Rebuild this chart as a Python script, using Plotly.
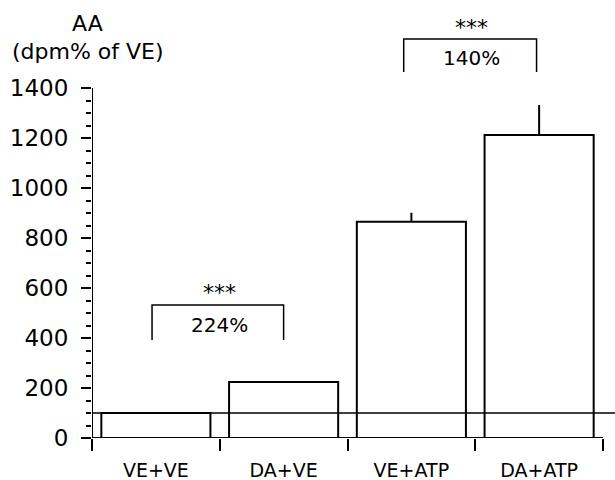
import plotly.graph_objects as go

categories = ["VE+VE", "DA+VE", "VE+ATP", "DA+ATP"]
values = [100, 224, 865, 1212]
errors = [4, 4, 36, 120]
y_major = [0, 200, 400, 600, 800, 1000, 1200, 1400]
y_minor = [v for v in range(50, 1400, 50) if v % 200 != 0]
baseline = 100
brackets = [
    {"x0": -0.03, "x1": 1.0, "top": 532, "leg": 392, "stars": 584, "pct": 452, "label": "224%", "xc": 0.5},
    {"x0": 1.94, "x1": 2.98, "top": 1596, "leg": 1464, "stars": 1644, "pct": 1520, "label": "140%", "xc": 2.47},
]

FONT = "DejaVu Sans"

fig = go.Figure()
fig.add_trace(go.Bar(
    x=categories, y=values,
    marker=dict(color="white", line=dict(color="black", width=2)),
    error_y=dict(type="data", array=errors, arrayminus=[0]*len(errors), symmetric=False,
                 color="black", thickness=2, width=0),
))

shapes = [
    dict(type="line", xref="x", yref="y", x0=-0.5, x1=-0.5, y0=0, y1=1400,
         line=dict(color="black", width=2)),
    dict(type="line", xref="x", yref="y", x0=-0.5, x1=3.5, y0=0, y1=0,
         line=dict(color="black", width=2)),
    dict(type="line", xref="paper", yref="y", x0=0, x1=1, y0=baseline, y1=baseline,
         line=dict(color="black", width=1.5), layer="above"),
]
annotations = [
    dict(text="AA", xref="paper", yref="y", x=-0.008, y=1660, xanchor="center", showarrow=False,
         font=dict(family=FONT, size=22, color="black")),
    dict(text="(dpm% of VE)", xref="paper", yref="y", x=-0.008, y=1548, xanchor="center", showarrow=False,
         font=dict(family=FONT, size=22, color="black")),
]
for b in brackets:
    shapes.append(dict(type="path", xref="x", yref="y",
                       path=f"M {b['x0']},{b['leg']} L {b['x0']},{b['top']} L {b['x1']},{b['top']} L {b['x1']},{b['leg']}",
                       line=dict(color="black", width=1.5)))
    annotations.append(dict(text="***", x=b["xc"], y=b["stars"], xref="x", yref="y", xanchor="center",
                            showarrow=False, font=dict(family=FONT, size=22, color="black")))
    annotations.append(dict(text=b["label"], x=b["xc"], y=b["pct"], xref="x", yref="y", xanchor="center",
                            showarrow=False, font=dict(family=FONT, size=20, color="black")))

fig.update_layout(
    width=615, height=480,
    margin=dict(l=92, r=0, t=0, b=42),
    paper_bgcolor="white", plot_bgcolor="white",
    showlegend=False,
    bargap=0.146,
    shapes=shapes, annotations=annotations,
    font=dict(family=FONT, size=20, color="black"),
    xaxis=dict(range=[-0.5, 3.594], showline=False, showgrid=False, zeroline=False, automargin=False,
               ticks="outside", tickson="boundaries", ticklen=12, tickwidth=2, tickcolor="black",
               ticklabelstandoff=19,
               tickfont=dict(family=FONT, size=19, color="black")),
    yaxis=dict(range=[0, 1752], showline=False, showgrid=False, zeroline=False, automargin=False,
               tickmode="array", tickvals=y_major, ticks="outside", ticklen=10, tickwidth=2,
               tickcolor="black", ticklabelstandoff=8,
               tickfont=dict(family=FONT, size=23, color="black"),
               minor=dict(tickmode="array", tickvals=y_minor, ticks="outside", ticklen=5,
                          tickwidth=1.5, tickcolor="black")),
)

fig.write_html("out.html")
